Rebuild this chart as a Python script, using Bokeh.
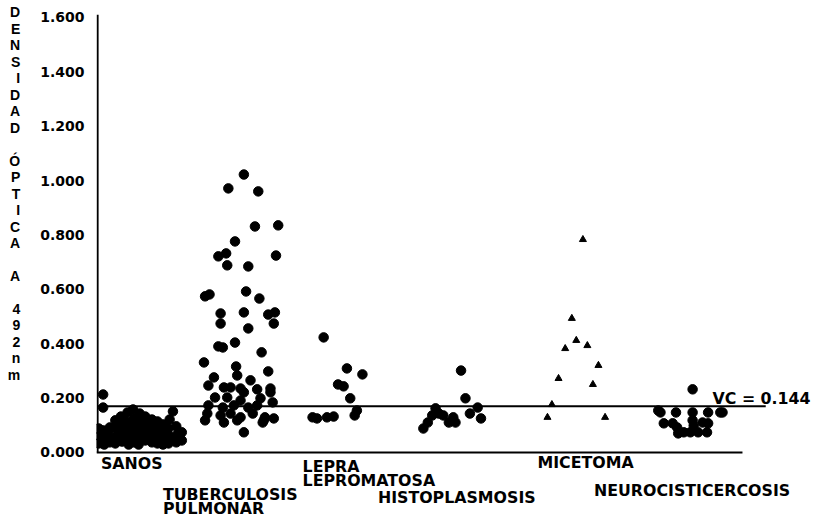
from bokeh.plotting import figure
from bokeh.models import Range1d, FixedTicker, NumeralTickFormatter
from bokeh.core.properties import value
from bokeh.embed import file_html
from bokeh.resources import INLINE

# ---------------- data ----------------
categories = ["SANOS", "TUBERCULOSIS\nPULMONAR", "LEPRA\nLEPROMATOSA",
              "HISTOPLASMOSIS", "MICETOMA", "NEUROCISTICERCOSIS"]
y_ticks = [0.0, 0.2, 0.4, 0.6, 0.8, 1.0, 1.2, 1.4, 1.6]
y_title_words = ["DENSIDAD", "ÓPTICA", "A", "492nm"]
cutoff_value = 0.17
cutoff_text = "VC = 0.144"

# jitter (in category widths) and optical density per subject
sanos_dx = [-0.27, -0.26, -0.27, -0.23, -0.23, -0.22, -0.23, -0.23,
            -0.17, -0.18, -0.17, -0.12, -0.12, -0.11, -0.12,
            -0.07, -0.06, -0.07, -0.06, -0.01, -0.02, -0.01, -0.01, 0.00,
            0.04, 0.05, 0.04, 0.04, 0.05, 0.10, 0.09, 0.10, 0.10, 0.09,
            0.15, 0.16, 0.15, 0.15, 0.21, 0.20, 0.21, 0.21,
            0.26, 0.27, 0.26, 0.26, 0.31, 0.32, 0.31, 0.31,
            0.37, 0.36, 0.37, 0.36, 0.40, 0.43, 0.44, 0.43, 0.48, 0.48,
            -0.20, 0.02, 0.12, 0.18, 0.24, 0.34, -0.09]
sanos_od = [0.088, 0.059, 0.033, 0.081, 0.051, 0.029, 0.213, 0.165,
            0.092, 0.063, 0.037, 0.118, 0.088, 0.059, 0.033,
            0.132, 0.099, 0.070, 0.040, 0.147, 0.114, 0.081, 0.051, 0.029,
            0.158, 0.125, 0.096, 0.066, 0.037, 0.143, 0.114, 0.085, 0.055, 0.029,
            0.132, 0.103, 0.074, 0.044, 0.121, 0.096, 0.066, 0.037,
            0.114, 0.088, 0.059, 0.033, 0.103, 0.077, 0.051, 0.029,
            0.121, 0.088, 0.059, 0.033, 0.151, 0.096, 0.066, 0.037, 0.074, 0.044,
            0.070, 0.110, 0.100, 0.080, 0.060, 0.070, 0.105]

tb_dx = [0.04, -0.10, 0.17, 0.14, 0.35, -0.04, -0.19, -0.12, -0.11, 0.08,
         0.33, -0.31, -0.27, 0.06, 0.18, -0.17, -0.17, 0.04, 0.08, 0.26,
         0.32, 0.31, -0.19, -0.15, -0.04, 0.20, -0.32, -0.03, -0.02, 0.26,
         -0.23, -0.28, 0.10, -0.14, -0.08, 0.01, 0.16, 0.28, 0.04, 0.28,
         -0.22, -0.11, 0.01, 0.19, -0.28, -0.15, -0.05, 0.08, 0.16, 0.30,
         -0.29, -0.17, -0.08, 0.01, 0.12, 0.23, -0.31, -0.14, -0.02, 0.21,
         0.31, 0.04, 0.22]
tb_od = [1.022, 0.971, 0.960, 0.831, 0.835, 0.776, 0.721, 0.732, 0.688, 0.684,
         0.724, 0.574, 0.581, 0.592, 0.566, 0.511, 0.474, 0.515, 0.456, 0.507,
         0.515, 0.474, 0.390, 0.386, 0.404, 0.368, 0.331, 0.316, 0.283, 0.298,
         0.276, 0.246, 0.265, 0.239, 0.239, 0.235, 0.232, 0.235, 0.221, 0.221,
         0.202, 0.202, 0.191, 0.199, 0.173, 0.165, 0.173, 0.165, 0.173, 0.184,
         0.143, 0.136, 0.143, 0.129, 0.143, 0.129, 0.118, 0.110, 0.118, 0.110,
         0.125, 0.074, 0.118]

lepra_dx = [-0.24, -0.03, 0.11, -0.11, -0.06, 0.00, 0.06, 0.04, -0.34, -0.30, -0.21, -0.15]
lepra_od = [0.423, 0.309, 0.287, 0.250, 0.243, 0.199, 0.154, 0.136, 0.129, 0.125, 0.129, 0.132]

histo_dx = [0.00, 0.04, 0.15, 0.08, 0.18, -0.23, -0.26, -0.30, -0.34, -0.16, -0.11, -0.05, -0.07, -0.20]
histo_od = [0.301, 0.199, 0.165, 0.143, 0.125, 0.162, 0.136, 0.110, 0.088, 0.136, 0.110, 0.110, 0.129, 0.143]

mice_dx = [0.10, 0.00, 0.04, -0.06, 0.14, 0.24, -0.12, 0.19, -0.18, -0.22, 0.30]
mice_od = [0.783, 0.493, 0.412, 0.382, 0.393, 0.320, 0.272, 0.250, 0.176, 0.129, 0.129]

neuro_dx = [0.09, -0.20, -0.06, 0.09, 0.23, 0.34, 0.09, 0.18, 0.10, -0.17, -0.09,
            -0.05, 0.01, -0.04, 0.07, 0.14, 0.22, 0.23, 0.36, -0.22]
neuro_od = [0.232, 0.147, 0.147, 0.147, 0.147, 0.147, 0.118, 0.110, 0.099, 0.107, 0.107,
            0.092, 0.074, 0.070, 0.074, 0.074, 0.074, 0.107, 0.147, 0.154]

# ---------------- figure ----------------
FONT = "DejaVu Sans"
p = figure(width=812, height=518, output_backend="svg", toolbar_location=None,
           x_range=Range1d(-0.29, 6.172), y_range=Range1d(-0.243, 1.662),
           x_axis_location=None, min_border_left=96, min_border_right=0,
           min_border_top=0, min_border_bottom=0)
p.outline_line_color = None
p.grid.visible = False
p.background_fill_color = "white"
p.border_fill_color = "white"

# vertical stacked y title: one letter per line, blank line between words,
# padded below so the stack sits at the top of the axis as in the original
letters = []
for w_i, w in enumerate(y_title_words):
    if w_i > 0:
        letters.append(" ")
    letters.extend(list(w))
letters += [" "] * 8

yax = p.yaxis[0]
yax.ticker = FixedTicker(ticks=y_ticks)
yax.formatter = NumeralTickFormatter(format="0.000")
yax.axis_line_color = None
yax.major_tick_line_color = None
yax.minor_tick_line_color = None
yax.major_tick_out = 0
yax.major_label_standoff = 12
yax.major_label_text_font = FONT
yax.major_label_text_font_style = "bold"
yax.major_label_text_font_size = "14px"
yax.major_label_text_color = "black"
yax.axis_label = "\n".join(letters)
yax.axis_label_orientation = "horizontal"
yax.axis_label_standoff = 17
yax.axis_label_text_font = "Liberation Sans"
yax.axis_label_text_font_style = "bold"
yax.axis_label_text_font_size = "14px"
yax.axis_label_text_line_height = 1.03
yax.axis_label_text_color = "black"

# axis frame lines
x_left = p.x_range.start + 0.01
p.segment(x0=[x_left], y0=[0], x1=[x_left], y1=[y_ticks[-1] + 0.01],
          line_color="black", line_width=2)
p.segment(x0=[p.x_range.start], y0=[0], x1=[len(categories) - 0.46], y1=[0],
          line_color="black", line_width=2)
p.segment(x0=[x_left], y0=[cutoff_value], x1=[len(categories) - 0.25], y1=[cutoff_value],
          line_color="black", line_width=2)

groups = [(sanos_dx, sanos_od), (tb_dx, tb_od), (lepra_dx, lepra_od),
          (histo_dx, histo_od), (mice_dx, mice_od), (neuro_dx, neuro_od)]
for i, (dx, od) in enumerate(groups):
    xs = [i + d for d in dx]
    if categories[i] == "MICETOMA":
        p.scatter(xs, od, marker="triangle", size=7, color="black")
    else:
        p.scatter(xs, od, marker="circle", size=9.5, color="black")

# category labels (staggered as in the original)
label_dx = [-0.25, -0.69, -0.43, -0.75, -0.31, -0.80]
label_y = [-0.040, -0.155, -0.051, -0.165, -0.037, -0.140]
line_step = 0.0515
lx, ly, lt = [], [], []
for i, name in enumerate(categories):
    for j, line in enumerate(name.split("\n")):
        lx.append(i + label_dx[i])
        ly.append(label_y[i] - j * line_step)
        lt.append(line)
p.text(x=lx, y=ly, text=lt, text_font=value(FONT), text_font_style="bold",
       text_font_size="15.8px", text_align="left", text_baseline="middle", text_color="black")

# cutoff label
p.text(x=[len(categories) - 0.73], y=[cutoff_value + 0.029], text=[cutoff_text],
       text_font=value(FONT), text_font_style="bold", text_font_size="15.8px",
       text_align="left", text_baseline="middle", text_color="black")

open("out.html", "w").write(file_html(p, INLINE))
